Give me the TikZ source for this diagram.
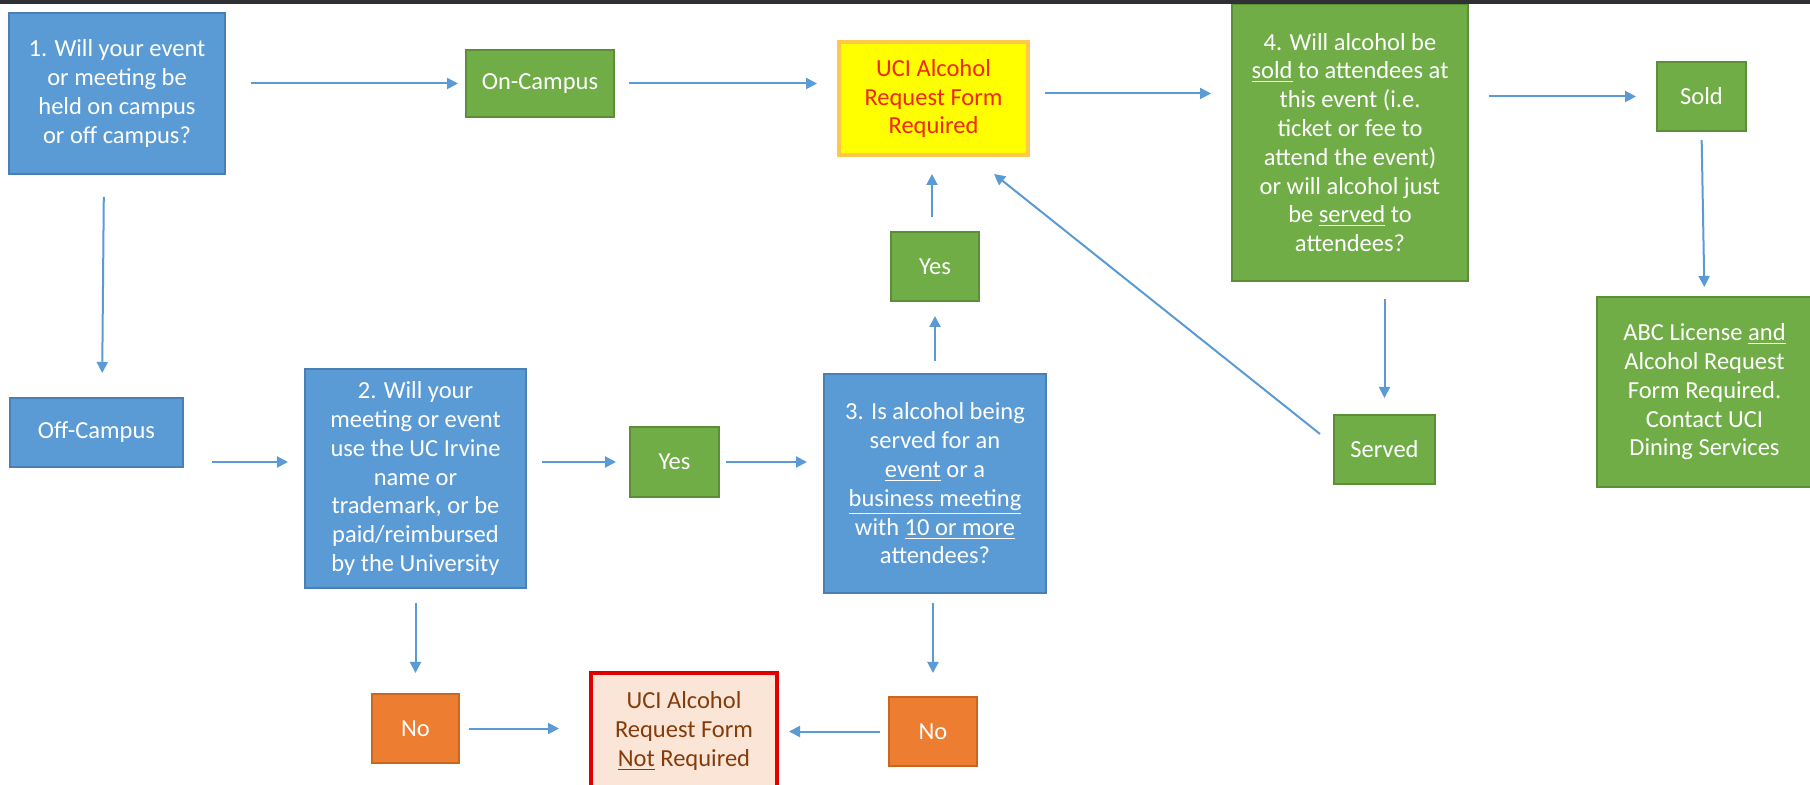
\documentclass[tikz,border=0pt]{standalone}
\usepackage{fontspec}
\setmainfont{Carlito}
\usetikzlibrary{arrows.meta,calc}
\definecolor{blueF}{HTML}{5B9BD5}
\definecolor{blueD}{HTML}{4A7FB5}
\definecolor{greenF}{HTML}{70AD47}
\definecolor{greenD}{HTML}{5A8F38}
\definecolor{orangeF}{HTML}{ED7D31}
\definecolor{orangeD}{HTML}{C9661F}
\definecolor{yellowF}{HTML}{FFFF00}
\definecolor{yellowD}{HTML}{FFC84A}
\definecolor{pinkF}{HTML}{FBE5D6}
\definecolor{redD}{HTML}{E00000}
\definecolor{redT}{HTML}{F0280A}
\definecolor{brownT}{HTML}{843C0C}
\definecolor{arrowc}{HTML}{5B9BD5}
\definecolor{barc}{HTML}{2F3033}
\begin{document}
\begin{tikzpicture}[x=0.5pt,y=-0.5pt,
  base/.style={rectangle, align=center, inner sep=0pt, outer sep=0pt, text=white,
    font=\fontsize{12.25}{14.4}\selectfont, line width=0.6pt},
  bluebox/.style={base, fill=blueF, draw=blueD},
  greenbox/.style={base, fill=greenF, draw=greenD},
  orangebox/.style={base, fill=orangeF, draw=orangeD},
  reqbox/.style={base, fill=yellowF, draw=yellowD, line width=1.8pt, text=redT},
  notbox/.style={base, fill=pinkF, draw=redD, line width=2pt, text=brownT},
  arr/.style={draw=arrowc, line width=1pt, -{Triangle[length=5.5pt,width=5.5pt]}}]
\useasboundingbox (0,0) rectangle (1810,785);
\clip (0,0) rectangle (1810,785);
\fill[white] (0,0) rectangle (1810,785);

\node[bluebox, minimum width=108pt, minimum height=80.5pt] (box1) at (117,93.5)
  {1. Will your event\\or meeting be\\held on campus\\or off campus?};
\node[greenbox, minimum width=74pt, minimum height=33.5pt] (on) at (540,83.5) {On-Campus};
\node[reqbox, minimum width=94.5pt, minimum height=56.5pt] (uci) at (933.5,98.5)
  {UCI Alcohol\\Request Form\\Required};
\node[greenbox, minimum width=118pt, minimum height=138.5pt] (box4) at (1350,142.5)
  {4. Will alcohol be\\\underline{sold} to attendees at\\this event (i.e.\\ticket or fee to\\attend the event)\\or will alcohol just\\be \underline{served} to\\attendees?};
\node[greenbox, minimum width=44.5pt, minimum height=34.5pt] (sold) at (1701.5,96.5) {Sold};
\node[greenbox, minimum width=107.5pt, minimum height=95pt] (abc) at (1704.5,392)
  {ABC License \underline{and}\\Alcohol Request\\Form Required.\\Contact UCI\\Dining Services};
\node[greenbox, minimum width=44pt, minimum height=34.5pt] (yesU) at (935,266.5) {Yes};
\node[greenbox, minimum width=50.5pt, minimum height=34.5pt] (served) at (1384.5,449.5) {Served};
\node[bluebox, minimum width=86.5pt, minimum height=34.5pt] (off) at (96.5,432.5) {Off-Campus};
\node[bluebox, minimum width=110.5pt, minimum height=109.5pt] (box2) at (415.5,478.5)
  {2. Will your\\meeting or event\\use the UC Irvine\\name or\\trademark, or be\\paid/reimbursed\\by the University};
\node[greenbox, minimum width=44.5pt, minimum height=35pt] (yesM) at (674.5,462) {Yes};
\node[bluebox, minimum width=111pt, minimum height=109.5pt] (box3) at (935,483.5)
  {3. Is alcohol being\\served for an\\\underline{event} or a\\\underline{business meeting}\\with \underline{10 or more}\\attendees?};
\node[orangebox, minimum width=43.5pt, minimum height=34.5pt] (noL) at (415.5,728.5) {No};
\node[notbox, minimum width=93pt, minimum height=58pt] (notreq) at (684,731)
  {UCI Alcohol\\Request Form\\\underline{Not} Required};
\node[orangebox, minimum width=44pt, minimum height=34.5pt] (noR) at (933,731.5) {No};

% connectors
\draw[arr, shorten <=13pt, shorten >=4pt] (box1.east |- on.west) -- (on.west);
\draw[arr, shorten <=7.5pt, shorten >=11pt] (on.east) -- (on.east -| uci.west);
\coordinate (a3s) at ([yshift=2.5pt]uci.east);
\draw[arr, shorten <=8.5pt, shorten >=10.5pt] (a3s) -- (a3s -| box4.west);
\draw[arr, shorten <=10.5pt, shorten >=10.5pt] (box4.east |- sold.west) -- (sold.west);
\draw[arr, shorten <=4.5pt, shorten >=5pt] (sold.south) -- (abc.north);
\draw[arr, shorten <=11.5pt, shorten >=12.5pt] ([xshift=-6.5pt]box1.south) -- ([xshift=2.75pt]off.north);
\draw[arr, shorten <=14.5pt, shorten >=8.5pt] (off.east |- yesM.west) -- (box2.west |- yesM.west);
\draw[arr, shorten <=8pt, shorten >=7pt] (box2.east |- yesM.west) -- (yesM.west);
\draw[arr, shorten <=3.5pt, shorten >=8.5pt] (yesM.east) -- (yesM.east -| box3.west);
\draw[arr, shorten <=6.5pt, shorten >=7.5pt] (box3.north -| yesU.south) -- (yesU.south);
\draw[arr, shorten <=7.5pt, shorten >=9.5pt] ([xshift=-1.5pt]yesU.north) -- ([xshift=-1.5pt]yesU.north |- uci.south);
\draw[arr, shorten <=9pt, shorten >=8.5pt] (served.north |- box4.south) -- (served.north);
\draw[arr] ([shift={(-7pt,-9.5pt)}]served.north west) -- ([shift={(-17pt,-9.5pt)}]uci.south east);
\draw[arr, shorten <=7.5pt, shorten >=10.5pt] (box2.south) -- (noL.north);
\draw[arr, shorten <=5pt, shorten >=16pt] (noL.east) -- (noL.east -| notreq.west);
\draw[arr, shorten <=5pt, shorten >=12pt] (box3.south -| noR.north) -- (noR.north);
\draw[arr, shorten <=4.5pt, shorten >=6pt] (noR.west) -- (noR.west -| notreq.east);

\fill[barc] (0,0) rectangle (1810,4.5);
\end{tikzpicture}
\end{document}
